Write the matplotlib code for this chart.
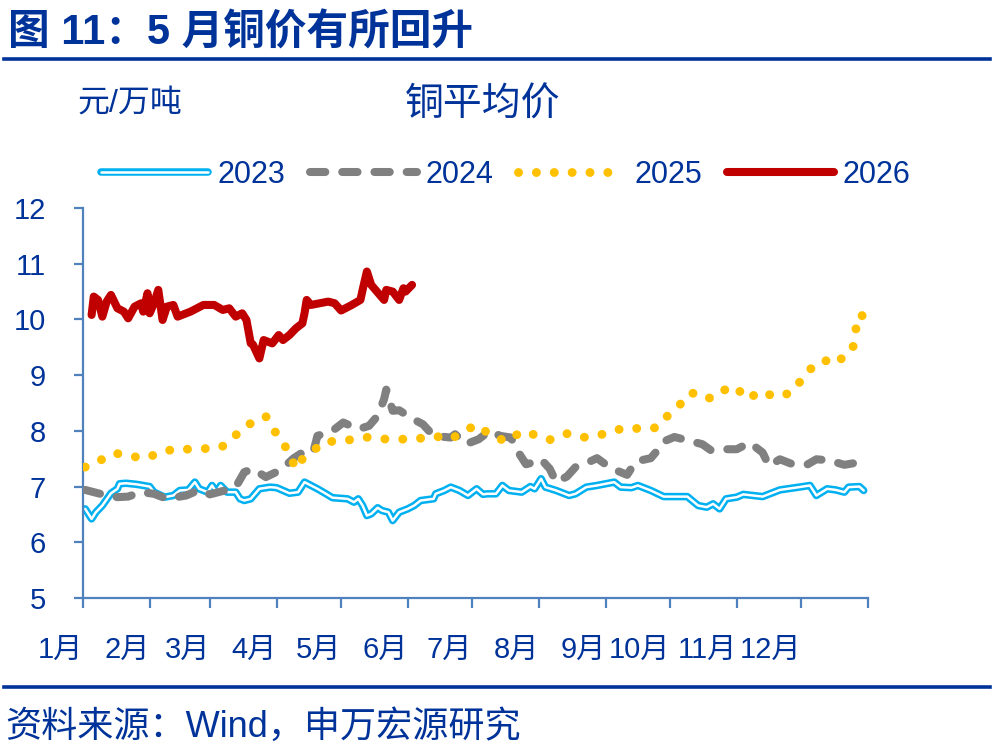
import matplotlib
matplotlib.use('Agg')
import matplotlib.pyplot as plt
from matplotlib.lines import Line2D
from matplotlib.legend_handler import HandlerTuple

plt.rcParams['font.family'] = ['Liberation Sans', 'Noto Sans CJK SC', 'DejaVu Sans']

TXT = '#003399'
AXC = '#4F81BD'

# ---- data (day of year, 万元/吨) ----
month_starts = [0, 31, 59, 90, 120, 151, 181, 212, 243, 273, 304, 334, 365]
month_labels = ['1月', '2月', '3月', '4月', '5月', '6月', '7月', '8月', '9月', '10月', '11月', '12月', '']

d2023 = [1, 4, 6, 9, 13, 16, 17, 20, 25, 31, 33, 38, 42, 45, 49, 52, 54, 58, 60, 62, 64, 67, 71, 73, 75, 78,
         82, 87, 90, 93, 96, 100, 103, 106, 109, 113, 116, 123, 126, 128, 130, 132, 134, 137, 139, 142, 144,
         147, 151, 154, 157, 163, 164, 168, 171, 175, 179, 183, 186, 188, 192, 195, 198, 204, 208, 210, 213,
         215, 220, 226, 229, 234, 239, 247, 250, 255, 258, 264, 270, 281, 286, 290, 293, 296, 299, 304, 307,
         316, 324, 333, 338, 341, 346, 350, 354, 356, 361, 363]
v2023 = [6.60, 6.42, 6.54, 6.66, 6.88, 6.96, 7.05, 7.06, 7.04, 7.00, 6.90, 6.81, 6.84, 6.93, 6.94, 7.08, 6.96,
         6.90, 7.02, 6.90, 7.02, 6.90, 6.90, 6.78, 6.75, 6.78, 6.96, 6.99, 6.98, 6.93, 6.88, 6.90, 7.08, 7.02,
         6.96, 6.87, 6.80, 6.78, 6.72, 6.78, 6.66, 6.48, 6.51, 6.62, 6.57, 6.54, 6.39, 6.54, 6.60, 6.66, 6.75,
         6.78, 6.87, 6.93, 6.99, 6.93, 6.84, 6.96, 6.86, 6.87, 6.87, 7.02, 6.93, 6.90, 7.00, 6.96, 7.14, 6.99,
         6.93, 6.84, 6.87, 6.99, 7.02, 7.08, 6.99, 6.98, 7.02, 6.93, 6.82, 6.82, 6.66, 6.63, 6.69, 6.60, 6.78,
         6.81, 6.86, 6.82, 6.94, 6.99, 7.02, 6.84, 6.96, 6.94, 6.90, 6.99, 7.00, 6.93]

d2024 = [1, 9, 16, 21, 27, 33, 39, 48, 54, 59, 67, 71, 75, 79, 85, 92, 98, 102, 107, 109, 112, 116, 121, 128,
         133, 137, 140, 141, 144, 147, 151, 155, 158, 163, 171, 173, 178, 184, 189, 194, 199, 202, 206, 209,
         213, 217, 220, 225, 229, 233, 239, 244, 248, 253, 257, 264, 268, 270, 275, 282, 288, 292, 298, 304,
         310, 316, 319, 324, 330, 337, 341, 347, 354, 360, 365]
v2024 = [6.94, 6.86, 6.81, 6.82, 6.90, 6.87, 6.78, 6.84, 6.94, 6.86, 6.94, 6.99, 7.26, 7.32, 7.17, 7.30, 7.51,
         7.61, 7.61, 7.91, 7.95, 8.00, 8.15, 8.03, 8.09, 8.27, 8.57, 8.74, 8.36, 8.37, 8.27, 8.18, 8.12, 7.91,
         7.88, 7.94, 7.76, 7.85, 8.00, 7.91, 7.88, 7.64, 7.40, 7.43, 7.49, 7.32, 7.08, 7.18, 7.35, 7.40, 7.51,
         7.37, 7.29, 7.21, 7.45, 7.51, 7.69, 7.81, 7.89, 7.82, 7.76, 7.65, 7.67, 7.67, 7.79, 7.61, 7.37, 7.49,
         7.40, 7.40, 7.49, 7.47, 7.39, 7.43, 7.43]

d2025 = [1, 9, 15, 21, 29, 36, 42, 48, 56, 64, 69, 73, 79, 85, 89, 93, 97, 99, 101, 106, 112, 119, 127, 133,
         141, 148, 156, 163, 171, 177, 183, 190, 197, 204, 211, 217, 225, 232, 240, 247, 254, 260, 267, 271,
         277, 283, 287, 293, 298, 303, 309, 315, 322, 329, 334, 338, 344, 347, 353, 358, 359, 362, 364]
v2025 = [7.35, 7.49, 7.60, 7.55, 7.51, 7.61, 7.67, 7.67, 7.68, 7.70, 7.83, 8.01, 8.16, 8.26, 8.00, 7.80, 7.49,
         7.32, 7.46, 7.61, 7.80, 7.82, 7.85, 7.89, 7.85, 7.85, 7.86, 7.91, 7.85, 7.99, 8.11, 7.91, 7.81, 7.99,
         7.92, 7.84, 7.95, 7.88, 7.92, 8.01, 8.06, 8.03, 8.06, 8.24, 8.45, 8.69, 8.59, 8.59, 8.73, 8.80, 8.57,
         8.71, 8.61, 8.68, 8.91, 9.11, 9.18, 9.34, 9.29, 9.49, 9.79, 10.10, 9.86]

d2026 = [4, 5, 7, 9, 11, 13, 16, 19, 21, 24, 27, 28, 30, 31, 33, 35, 37, 39, 42, 44, 50, 56, 61, 65, 68, 71,
         74, 76, 78, 79, 82, 84, 88, 91, 93, 96, 99, 102, 103, 104, 106, 110, 114, 117, 120, 125, 129, 130,
         132, 134, 138, 140, 141, 144, 147, 149, 150, 153]
v2026 = [10.08, 10.41, 10.35, 10.05, 10.32, 10.44, 10.20, 10.14, 10.02, 10.23, 10.29, 10.14, 10.47, 10.11,
         10.29, 10.53, 9.99, 10.23, 10.26, 10.05, 10.14, 10.26, 10.26, 10.17, 10.20, 10.05, 10.11, 9.99, 9.57,
         9.55, 9.30, 9.63, 9.57, 9.72, 9.63, 9.72, 9.84, 9.93, 10.11, 10.35, 10.26, 10.29, 10.32, 10.29, 10.16,
         10.26, 10.35, 10.53, 10.86, 10.62, 10.44, 10.35, 10.53, 10.50, 10.35, 10.56, 10.50, 10.62]

series_names = ['2023', '2024', '2025', '2026']

# ---- figure ----
fig = plt.figure(figsize=(9.98, 7.52), dpi=100)
ax = fig.add_axes([83 / 998, 1 - 598 / 752, 785 / 998, 390 / 752])

h23o, = ax.plot(d2023, v2023, color='#00B0F0', lw=5.4, solid_joinstyle='round',
                solid_capstyle='round', zorder=2)
h23i, = ax.plot(d2023, v2023, color='white', lw=1.8, solid_joinstyle='round',
                solid_capstyle='round', zorder=2.1)
h24, = ax.plot(d2024, v2024, color='#808080', lw=5.8, dashes=(1.9, 2.1),
               dash_capstyle='round', dash_joinstyle='round', zorder=3)
h25, = ax.plot(d2025, v2025, color='#FFC000', lw=6.4, dashes=(0.01, 2.0),
               dash_capstyle='round', zorder=4)
h26, = ax.plot(d2026, v2026, color='#C00000', lw=5.8, solid_joinstyle='round',
               solid_capstyle='round', zorder=5)

ax.set_xlim(0, 365)
ax.set_ylim(5, 12)
ax.set_yticks(range(5, 13))
ax.set_xticks(month_starts)
ax.set_xticklabels(month_labels, ha='right')

for s in ['top', 'right']:
    ax.spines[s].set_visible(False)
for s in ['left', 'bottom']:
    ax.spines[s].set_color(AXC)
    ax.spines[s].set_linewidth(1.6)

ax.tick_params(axis='y', direction='out', length=6.5, width=1.6, color=AXC,
               labelsize=21, labelcolor=TXT, pad=20)
ax.tick_params(axis='x', direction='out', length=7, width=1.6, color=AXC,
               labelsize=21, labelcolor=TXT, pad=20)
for lab in ax.get_xticklabels():
    lab.set_horizontalalignment('right')

# legend
leg = fig.legend([(h23o, h23i), h24, h25, h26], series_names,
                 handler_map={tuple: HandlerTuple(ndivide=1)},
                 loc='center', bbox_to_anchor=(506 / 998, 1 - 175 / 752), ncol=4,
                 frameon=False, fontsize=22, handlelength=3.5, handletextpad=0.3,
                 columnspacing=0.8, labelcolor=TXT, borderpad=0, borderaxespad=0)

# texts
fig.text(8 / 998, 1 - 33 / 752, '图 11：5 月铜价有所回升', fontsize=30, fontweight='bold',
         color=TXT, ha='left', va='center')
fig.add_artist(Line2D([4 / 998, 990 / 998], [1 - 59 / 752] * 2, color=TXT, lw=2.6))
fig.text(77 / 998, 1 - 105 / 752, '元/万吨', fontsize=23, color=TXT, ha='left', va='center')
fig.text(483 / 998, 1 - 106 / 752, '铜平均价', fontsize=28, color=TXT, ha='center', va='center')
fig.add_artist(Line2D([4 / 998, 990 / 998], [1 - 687 / 752] * 2, color=TXT, lw=2.6))
fig.text(5 / 998, 1 - 727 / 752, '资料来源：Wind，申万宏源研究', fontsize=26, color=TXT,
         ha='left', va='center')

fig.savefig('out.png', dpi=100)
